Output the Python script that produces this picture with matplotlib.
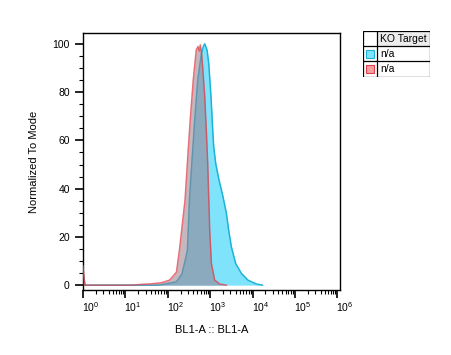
import numpy as np
import matplotlib
matplotlib.use('Agg')
import matplotlib.pyplot as plt
from matplotlib.patches import Rectangle
from matplotlib.ticker import LogLocator, MultipleLocator
import matplotlib.transforms as mtransforms

plt.rcParams['font.family'] = 'Liberation Sans'
plt.rcParams['mathtext.fontset'] = 'custom'
plt.rcParams['mathtext.rm'] = 'Liberation Sans'
plt.rcParams['mathtext.it'] = 'Liberation Sans'

# histogram traces (BL1-A value, % of mode)
blue_x = [1.0, 1.12, 60, 77.5, 160, 215, 255, 290, 324, 367, 432, 508, 614, 690, 743,
          841, 922, 1044, 1146, 1209, 1346, 1613, 2006, 2405, 2725, 3155, 3981, 5420,
          7745, 12220, 17000]
blue_y = [5.0, 0.0, 0.0, 0.3, 1.4, 4.6, 10.0, 14.5, 35.3, 50.0, 68.5, 85.0, 95.4, 99.0, 100.0,
          97.5, 92.0, 78.1, 64.3, 57.4, 50.5, 43.6, 36.6, 29.8, 22.8, 15.9, 9.0, 4.9,
          2.1, 0.5, 0.0]

red_x = [1.0, 1.1, 15, 22, 38, 71, 111, 160, 188, 255, 288, 338, 398, 469, 516,
         549, 585, 631, 654, 743, 809, 873, 922, 973, 1066, 1276, 1675, 2405]
red_y = [8.0, 0.0, 0.0, 0.3, 0.5, 1.0, 2.1, 5.4, 14.5, 35.3, 50.0, 68.5, 85.0, 97.5, 98.9,
         97.0, 99.6, 95.4, 92.0, 78.1, 64.3, 50.5, 36.6, 22.8, 9.0, 2.1, 0.5, 0.0]

legend_title = 'KO Target'
legend_labels = ['n/a', 'n/a']

blue_edge = '#1cb4d6'
blue_fill = '#7fe3fb'
red_edge = '#e0404c'
red_fill = '#977c8c'

fig = plt.figure(figsize=(4.51, 3.55), dpi=100)
ax = fig.add_axes([83 / 451, 1 - 290 / 355, 257 / 451, 257 / 355])

ax.fill_between(blue_x, blue_y, color=blue_fill, lw=0, zorder=1)
ax.plot(blue_x, blue_y, color=blue_edge, lw=1.1, zorder=2, solid_joinstyle='round')
ax.fill_between(red_x, red_y, color=red_fill, alpha=0.55, lw=0, zorder=3)
ax.plot(red_x, red_y, color=red_edge, lw=1.1, alpha=0.75, zorder=4, solid_joinstyle='round')

ax.set_xscale('log')
ax.set_xlim(1, 1.15e6)
ax.set_ylim(-2, 104.5)
ax.xaxis.set_major_locator(LogLocator(base=10, numticks=10))
ax.xaxis.set_minor_locator(LogLocator(base=10, subs=np.arange(2, 10), numticks=20))
ax.yaxis.set_major_locator(MultipleLocator(20))
ax.yaxis.set_minor_locator(MultipleLocator(5))

ax.tick_params(axis='both', which='major', direction='out', length=6, width=1.2,
               labelsize=7.5, colors='black')
ax.tick_params(axis='both', which='minor', direction='out', length=3, width=0.8)
ax.tick_params(axis='x', which='major', pad=1.5)
offset = mtransforms.ScaledTranslation(-1 / 100, 0, fig.dpi_scale_trans)
for lbl in ax.xaxis.get_majorticklabels():
    lbl.set_transform(lbl.get_transform() + offset)
    lbl.set_horizontalalignment('left')

for s in ax.spines.values():
    s.set_linewidth(1.0)
    s.set_color('black')

ax.set_xlabel('BL1-A :: BL1-A', fontsize=8, labelpad=8)
ax.set_ylabel('Normalized To Mode', fontsize=8, labelpad=10)

# table-style legend
lax = fig.add_axes([363 / 451, 1 - 77 / 355, 67 / 451, 46 / 355])
lax.set_xlim(0, 67)
lax.set_ylim(46, 0)
lax.axis('off')
lax.add_patch(Rectangle((14, 0), 53, 15, facecolor='#ececec', edgecolor='none'))
lax.add_patch(Rectangle((0, 0), 67, 46, facecolor='none', edgecolor='black', lw=0.9))
for yy in (15, 30.5):
    lax.plot([0, 67], [yy, yy], color='black', lw=0.9)
lax.plot([14, 14], [0, 46], color='black', lw=0.9)
lax.text(17, 8, legend_title, fontsize=7.5, va='center', ha='left')
sw_colors = [(blue_fill, blue_edge), ('#f6a0a0', red_edge)]
for i, (lab, (fc, ec)) in enumerate(zip(legend_labels, sw_colors)):
    yc = 15 + 15.5 * i + 7.75
    lax.add_patch(Rectangle((3, yc - 4), 8, 8, facecolor=fc, edgecolor=ec, lw=0.8))
    lax.text(17, yc, lab, fontsize=7.5, va='center', ha='left')

fig.savefig('out.png', dpi=100)
